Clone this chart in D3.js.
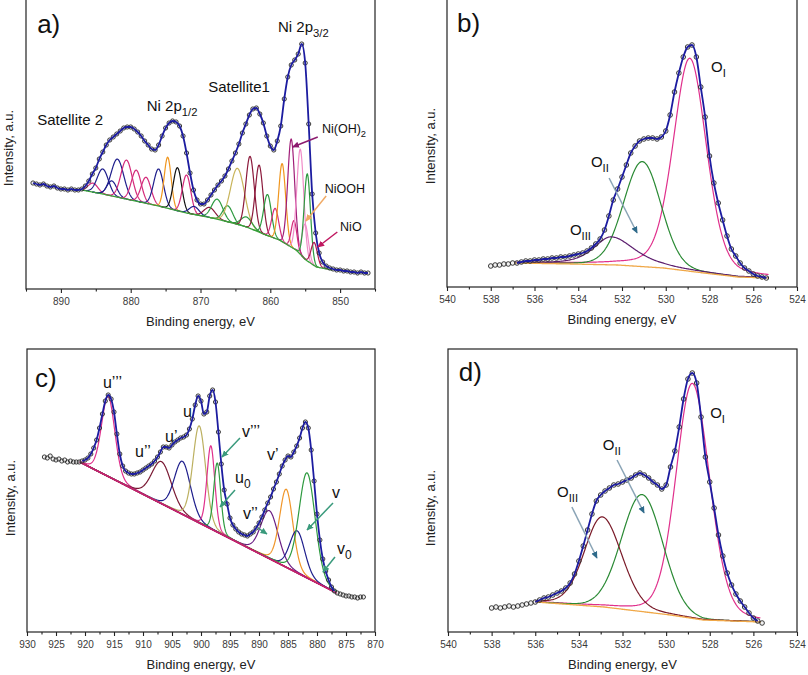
<!DOCTYPE html>
<html><head><meta charset="utf-8">
<script src="https://cdn.jsdelivr.net/npm/d3@7"></script>
<style>
body{margin:0;background:#fff}
svg{display:block}
text{font-family:"Liberation Sans",Arial,sans-serif}
</style>
</head><body>
<svg id="chart" width="808" height="675"></svg>
<script>
// ---------------- DATA ----------------
// Panel a: Ni 2p  [binding energy eV, intensity a.u.]
const obsNi = [[894,106],[893.5,105],[893,104],[892.5,105],[892,103],[891.5,102],[891,103],[890.5,101],[890,100],[889.5,100],[889,99],[888.5,100],[888,99],[887.5,99],[887,100],[886.5,103],[886,108],[885.5,115],[885,121],[884.5,130],[884,137],[883.5,144],[883,149],[882.5,152],[882,155],[881.5,158],[881,161],[880.5,162],[880,162],[879.5,160],[879,157],[878.5,153],[878,148],[877.5,144],[877,140],[876.5,139],[876,144],[875.5,153],[875,161],[874.5,166],[874,168],[873.5,167],[873,163],[872.5,153],[872,136],[871.5,116],[871,99],[870.5,89],[870,85],[869.5,85],[869,89],[868.5,94],[868,99],[867.5,104],[867,108],[866.5,113],[866,120],[865.5,128],[865,136],[864.5,145],[864,156],[863.5,165],[863,174],[862.5,180],[862,181],[861.5,175],[861,166],[860.5,153],[860,143],[859.5,139],[859,148],[858.5,163],[858,190],[857.5,212],[857,224],[856.5,229],[856,235],[855.5,245],[855,226],[854.5,165],[854,95],[853.5,56],[853,36],[852.5,27],[852,23],[851.5,21],[851,20],[850.5,19],[850,19],[849.5,18],[849,18],[848.5,17],[848,17],[847.5,16],[847,17],[846.5,16],[846,16]];
const bgNiE = [887,884,880,876,872,868.3,865.4,863.4,860.6,858.7,856.3,854.9,853.4,851.1];
const bgNiI = [99,95,89,83,76,71,66,62,54,49,39,29,22,19];
const niCenters = [885.4,884.0,882.7,881.9,880.6,879.2,877.8,876.0,874.7,873.3,872.0,870.9,868.7,867.6,866.1,864.7,863.4,862.9,861.6,860.4,859.3,858.3,857.0,856.6,855.7,855.0,854.7,853.7];
const niHeights = [9,25,15,38,39,31,26,37,51,43,38,8,10,20,16,56,10,72,67,41,30,78,108,28,105,35,87,23];
const niWidths  = [0.7,0.8,0.7,0.9,0.8,0.7,0.7,0.7,0.5,0.6,0.6,0.7,0.8,0.8,0.7,1.0,0.8,0.6,0.55,0.55,0.5,0.5,0.5,0.4,0.5,0.45,0.45,0.45];

// Panel b: O 1s
const obsOb = [[538.0,21],[537.8,22],[537.6,22],[537.4,23],[537.2,23],[537.0,24],[536.8,24],[536.6,25],[536.4,26],[536.2,26],[536.0,27],[535.8,27],[535.6,28],[535.4,28],[535.2,29],[535.0,29],[534.8,30],[534.6,30],[534.4,31],[534.2,32],[534.0,33],[533.8,34],[533.6,36],[533.4,39],[533.2,43],[533.0,48],[532.8,57],[532.6,71],[532.4,87],[532.2,98],[532.0,110],[531.8,122],[531.6,134],[531.4,141],[531.2,146],[531.0,148],[530.8,149],[530.6,149],[530.4,148],[530.2,150],[530.0,156],[529.8,172],[529.6,195],[529.4,214],[529.2,230],[529.0,240],[528.8,242],[528.6,230],[528.4,200],[528.2,170],[528.0,131],[527.8,104],[527.6,84],[527.4,67],[527.2,51],[527.0,38],[526.8,31],[526.6,24],[526.4,19],[526.2,16],[526.0,13],[525.8,11],[525.6,10],[525.4,9]];
const bgObE = [536.9,534.3,532.2,530.1,528.25,526.7,525.3];
const bgObI = [24,23,22,19,14,10,9];
const obCenters = [528.9,531.07,532.5];
const obHeights = [213,105,28];
const obWidthHigh = [0.76,0.85,0.8];
const obWidthLow = [0.76,0.85,1.1];
const obLorentz = [0.28,0.1,0.6];

// Panel c: Ce 3d
const obsCe = [[927,175],[926.5,174],[926,176],[925.5,173],[925,172],[924.5,173],[924,171],[923.5,172],[923,170],[922.5,171],[922,170],[921.5,170],[921,170],[920.5,171],[920,172],[919.5,174],[919,178],[918.5,184],[918,192],[917.5,204],[917,218],[916.5,231],[916,237],[915.5,233],[915,220],[914.5,198],[914,178],[913.5,166],[913,161],[912.5,159],[912,158],[911.5,158],[911,159],[910.5,160],[910,162],[909.5,164],[909,166],[908.5,168],[908,171],[907.5,175],[907,180],[906.5,185],[906,185],[905.5,184],[905,187],[904.5,190],[904,192],[903.5,194],[903,195],[902.5,197],[902,203],[901.5,213],[901,227],[900.5,236],[900,231],[899.5,218],[899,220],[898.5,236],[898,242],[897.5,230],[897,200],[896.5,168],[896,142],[895.5,128],[895,114],[894.5,107],[894,103],[893.5,100],[893,98],[892.5,97],[892,96],[891.5,98],[891,100],[890.5,104],[890,109],[889.5,115],[889,122],[888.5,129],[888,135],[887.5,143],[887,150],[886.5,158],[886,166],[885.5,172],[885,176],[884.5,175],[884,180],[883.5,186],[883,194],[882.5,204],[882,210],[881.5,204],[881,182],[880.5,151],[880,118],[879.5,92],[879,73],[878.5,61],[878,52],[877.5,45],[877,41],[876.5,39],[876,38],[875.5,37],[875,36],[874.5,36],[874,35],[873.5,35],[873,34],[872.5,35],[872,35]];
const bgCeE = [920.9,876.6];
const bgCeI = [170,39];
const ceCenters = [916.0,906.8,903.2,900.3,898.3,897.2,888.2,885.3,883.4,881.7];
const ceHeights = [80,42,53,97,83,69,48,78,42,105];
const ceWidths  = [1.15,1.7,1.4,1.1,0.68,0.6,1.5,1.15,1.3,1.4];

// Panel d: O 1s
const obsOd = [[538.0,24],[537.8,25],[537.6,24],[537.4,25],[537.2,26],[537.0,25],[536.8,26],[536.6,27],[536.4,28],[536.2,29],[536.0,30],[535.8,32],[535.6,34],[535.4,35],[535.2,37],[535.0,39],[534.8,41],[534.6,44],[534.4,49],[534.2,58],[534.0,71],[533.8,86],[533.6,102],[533.4,118],[533.2,131],[533.0,137],[532.8,141],[532.6,144],[532.4,147],[532.2,148],[532.0,150],[531.8,152],[531.6,154],[531.4,157],[531.2,159],[531.0,157],[530.8,154],[530.6,150],[530.4,147],[530.2,143],[530.0,147],[529.8,165],[529.6,181],[529.4,205],[529.2,233],[529.0,253],[528.8,259],[528.6,249],[528.4,215],[528.2,175],[528.0,150],[527.8,124],[527.6,97],[527.4,76],[527.2,59],[527.0,47],[526.8,38],[526.6,31],[526.4,25],[526.2,19],[526.0,14],[525.8,11],[525.6,9]];
const bgOdE = [536.0,532.85,529.8,528.3,525.65];
const bgOdI = [30,25,17,12,10];
const odCenters = [528.8,531.1,532.93];
const odHeights = [235,117,90];
const odWidthHigh = [0.75,0.95,0.82];
const odWidthLow = [0.8,0.95,0.9];
const odLorentz = [0.2,0.05,0.15];

// tick values
const ticksA = [890,880,870,860,850];
const minorA = [895,885,875,865,855,845];
const ticksB = [540,538,536,534,532,530,528,526,524];
const minorB = [539,537,535,533,531,529,527,525];
const ticksC = [930,925,920,915,910,905,900,895,890,885,880,875,870];
const minorC = [927.5,922.5,917.5,912.5,907.5,902.5,897.5,892.5,887.5,882.5,877.5,872.5];

// annotations (in data units)
const labelsA = [
  {t:'Satellite 2', e:893.4, i:164, fs:15},
  {t:'Ni 2p', sub:'1/2', e:877.7, i:178, fs:15},
  {t:'Satellite1', e:868.9, i:197, fs:15},
  {t:'Ni 2p', sub:'3/2', e:858.9, i:257, fs:15},
  {t:'Ni(OH)', sub:'2', e:852.6, i:156, fs:12.5},
  {t:'NiOOH', e:852.2, i:96, fs:12.5},
  {t:'NiO', e:850.0, i:58, fs:12.5}
];
const arrowsA = [
  {from:[853.2,152], to:[856.8,142], c:'#8c1a6e'},
  {from:[852.0,93], to:[854.9,68], c:'#f0aa66'},
  {from:[850.4,57], to:[853.2,42], c:'#c01860'}
];
const labelsB = [
  {t:'O', sub:'I', e:527.93, i:215, fs:15},
  {t:'O', sub:'II', e:533.42, i:120, fs:15},
  {t:'O', sub:'III', e:534.38, i:52, fs:15}
];
const arrowsB = [{from:[532.59,109], to:[531.31,54], c:'#8aa4b6', h:'#2e6a8a'}];
const labelsC = [
  {t:'u’’’', e:916.9, i:244, fs:16},
  {t:'u’’', e:911.38, i:175, fs:16},
  {t:'u’', e:906.2, i:190, fs:16},
  {t:'u', e:903.1, i:215, fs:16},
  {t:'v’’’', e:892.93, i:195, fs:16},
  {t:'u', sub:'0', e:894.14, i:149, fs:16},
  {t:'v’', e:888.62, i:172, fs:16},
  {t:'v’’', e:892.76, i:113, fs:16},
  {t:'v', e:877.41, i:134, fs:16},
  {t:'v', sub:'0', e:876.55, i:78, fs:16}
];
const arrowsC = [
  {from:[893.28,194], to:[896.38,175], c:'#3a9a7c'},
  {from:[894.14,142], to:[896.72,125], c:'#3a9a7c'},
  {from:[890.17,104], to:[888.62,98], c:'#3a9a7c'},
  {from:[877.24,129], to:[881.72,102], c:'#3a9a7c'},
  {from:[876.9,75], to:[878.97,60], c:'#3a9a7c'}
];
const labelsD = [
  {t:'O', sub:'I', e:527.98, i:214, fs:15},
  {t:'O', sub:'II', e:532.9, i:182, fs:15},
  {t:'O', sub:'III', e:535.0, i:135, fs:15}
];
const arrowsD = [
  {from:[532.25,172], to:[531.01,119], c:'#8aa4b6', h:'#2e6a8a'},
  {from:[534.32,125], to:[533.17,74], c:'#8aa4b6', h:'#2e6a8a'}
];

// ---------------- STYLES ----------------
const niColors = ['#d42a7a','#1e1e8c','#1e1e8c','#1e1e8c','#d42a7a','#d42a7a','#d42a7a','#1e1e8c','#f0961e','#111111','#d42a7a','#1e1e8c','#8c1a3c','#2e9a40','#2e9a40','#c8b45a','#2e9a40','#8c1a3c','#8c1a3c','#2e9a40','#d42a7a','#f0961e','#a01e78','#d42a7a','#f08cc8','#f08cc8','#2e9a40','#b01850'];
const ceColors = ['#e0308c','#7a1a34','#1e1e8c','#bcb060','#e0308c','#2e9a40','#6a1e84','#f0962a','#1e1e8c','#2e9a40'];
const obColors = ['#e0308c','#2a8a34','#5c1e6e'];
const odColors = ['#e0308c','#2a8a34','#7a1a28'];

// ---------------- DRAW ----------------
const svg = d3.select('#chart');
const defs = svg.append('defs');
const markerIds = {};
function markerFor(color){
  if (markerIds[color]) return markerIds[color];
  const id = 'm' + Object.keys(markerIds).length;
  defs.append('marker').attr('id', id).attr('viewBox','0 0 10 10')
    .attr('refX', 9).attr('refY', 5).attr('markerWidth', 7).attr('markerHeight', 7)
    .attr('markerUnits','userSpaceOnUse').attr('orient','auto')
    .append('path').attr('d','M0,0.5 L10,5 L0,9.5 Z').attr('fill', color);
  markerIds[color] = id;
  return id;
}

function peakValue(E, c, h, wHigh, wLow, eta){
  const s = E > c ? wHigh : wLow;
  const d = (E - c) / s;
  const g = Math.exp(-0.5 * d * d);
  const gam = s * 1.1774;
  const l = 1 / (1 + ((E - c) / gam) ** 2);
  return h * ((1 - eta) * g + eta * l);
}

function drawPanel(cfg){
  const x = d3.scaleLinear().domain(cfg.xDomain).range([cfg.left, cfg.right]);
  const y = d3.scaleLinear().domain(cfg.yDomain).range([cfg.bottom, cfg.top]);
  const g = svg.append('g');
  const clipId = 'clip' + cfg.id;
  defs.append('clipPath').attr('id', clipId).append('rect')
    .attr('x', cfg.left).attr('y', cfg.top).attr('width', cfg.right - cfg.left).attr('height', cfg.bottom - cfg.top);
  const plot = g.append('g').attr('clip-path', `url(#${clipId})`);
  const bg = d3.scaleLinear().domain(cfg.bgE).range(cfg.bgI).clamp(true);
  const line = d3.line().x(d => x(d[0])).y(d => y(d[1]));
  const bgLo = d3.min(cfg.bgE), bgHi = d3.max(cfg.bgE);

  // components
  cfg.centers.forEach((c, k) => {
    let lo, hi;
    if (cfg.local) { lo = Math.max(bgLo, c - 4 * cfg.wLow[k]); hi = Math.min(bgHi, c + 4 * cfg.wHigh[k]); }
    else { lo = cfg.fitRange[0]; hi = cfg.fitRange[1]; }
    const pts = d3.range(hi, lo - 1e-9, -0.04).map(E => [E, bg(E) + peakValue(E, c, cfg.heights[k], cfg.wHigh[k], cfg.wLow[k], cfg.eta[k])]);
    plot.append('path').attr('d', line(pts)).attr('fill','none')
      .attr('stroke', cfg.colors[k]).attr('stroke-width', 1.2);
  });
  // background
  const bgPts = d3.range(bgHi, bgLo - 1e-9, -0.05).map(E => [E, bg(E)]);
  plot.append('path').attr('d', line(bgPts)).attr('fill','none')
    .attr('stroke', cfg.bgColor).attr('stroke-width', cfg.bgWidth || 1.3);

  // observed circles
  plot.selectAll('circle.obs').data(cfg.obs).enter().append('circle')
    .attr('cx', d => x(d[0])).attr('cy', d => y(d[1])).attr('r', cfg.r || 2.1)
    .attr('fill','rgba(200,200,200,0.25)').attr('stroke','#262626').attr('stroke-width', 0.9);
  // fit envelope
  const fitPts = cfg.obs.filter(d => d[0] <= cfg.fitRange[1] + 1e-9 && d[0] >= cfg.fitRange[0] - 1e-9);
  plot.append('path').attr('d', d3.line().x(d => x(d[0])).y(d => y(d[1])).curve(d3.curveMonotoneX)(fitPts))
    .attr('fill','none').attr('stroke','#1c1ca0').attr('stroke-width', 1.8);

  // frame
  g.append('rect').attr('x', cfg.left).attr('y', cfg.top).attr('width', cfg.right - cfg.left)
    .attr('height', cfg.bottom - cfg.top).attr('fill','none').attr('stroke','#222').attr('stroke-width', 1.2);

  // axes
  const ax = g.append('g').attr('transform', `translate(0,${cfg.bottom})`)
    .call(d3.axisBottom(x).tickValues(cfg.major).tickSize(4).tickPadding(5).tickFormat(d3.format('d')));
  ax.select('.domain').remove();
  ax.selectAll('line').attr('stroke','#222').attr('stroke-width', 1.1);
  ax.selectAll('text').attr('font-size', 10).attr('fill','#3a3a3a')
    .attr('font-family','"Liberation Sans",Arial,sans-serif');
  const mx = g.append('g').attr('transform', `translate(0,${cfg.bottom})`)
    .call(d3.axisBottom(x).tickValues(cfg.minor).tickSize(2.6).tickFormat(''));
  mx.select('.domain').remove();
  mx.selectAll('line').attr('stroke','#222').attr('stroke-width', 1.1);

  // axis titles
  g.append('text').attr('x', (cfg.left + cfg.right) / 2).attr('y', cfg.bottom + 37)
    .attr('text-anchor','middle').attr('font-size', 13).attr('fill','#222').text('Binding energy, eV');
  g.append('text').attr('transform', `translate(${cfg.yLabelX},${cfg.yLabelY}) rotate(-90)`)
    .attr('text-anchor','middle').attr('dy','0.35em').attr('font-size', 13).attr('fill','#222')
    .text('Intensity, a.u.');

  // panel letter
  g.append('text').attr('x', x(cfg.letterPos[0])).attr('y', y(cfg.letterPos[1]))
    .attr('font-size', 26).attr('fill','#111').text(cfg.letter);

  // labels
  cfg.labels.forEach(L => {
    const t = g.append('text').attr('x', x(L.e)).attr('y', y(L.i)).attr('font-size', L.fs).attr('fill','#111');
    t.append('tspan').text(L.t);
    if (L.sub) t.append('tspan').attr('dy', L.fs * 0.33).attr('font-size', L.fs * 0.75).text(L.sub);
  });
  // arrows
  cfg.arrows.forEach(A => {
    g.append('line').attr('x1', x(A.from[0])).attr('y1', y(A.from[1]))
      .attr('x2', x(A.to[0])).attr('y2', y(A.to[1]))
      .attr('stroke', A.c).attr('stroke-width', 1.5)
      .attr('marker-end', `url(#${markerFor(A.h || A.c)})`);
  });
}

drawPanel({id:'a', left:26, right:375, top:-2, bottom:289, xDomain:[895,845], yDomain:[0,291],
  obs:obsNi, fitRange:[846,894], bgE:bgNiE, bgI:bgNiI, bgColor:'#3aa03a', local:true,
  centers:niCenters, heights:niHeights, wHigh:niWidths, wLow:niWidths, eta:niCenters.map(() => 0), colors:niColors,
  major:ticksA, minor:minorA, yLabelX:8, yLabelY:148, letter:'a)', letterPos:[893.4,256],
  labels:labelsA, arrows:arrowsA, r:2.1});

drawPanel({id:'b', left:447, right:797, top:-2, bottom:287, xDomain:[540,524], yDomain:[0,289],
  obs:obsOb, fitRange:[525.3,536.9], bgE:bgObE, bgI:bgObI, bgColor:'#f0a848',
  centers:obCenters, heights:obHeights, wHigh:obWidthHigh, wLow:obWidthLow, eta:obLorentz, colors:obColors,
  major:ticksB, minor:minorB, yLabelX:430, yLabelY:146, letter:'b)', letterPos:[539.54,255],
  labels:labelsB, arrows:arrowsB, r:2.3});

drawPanel({id:'c', left:27, right:375, top:349, bottom:632, xDomain:[930,870], yDomain:[0,283],
  obs:obsCe, fitRange:[876.6,920.9], bgE:bgCeE, bgI:bgCeI, bgColor:'#c81e6e', bgWidth:1.8,
  centers:ceCenters, heights:ceHeights, wHigh:ceWidths, wLow:ceWidths, eta:ceCenters.map(() => 0.15), colors:ceColors,
  major:ticksC, minor:minorC, yLabelX:10, yLabelY:498, letter:'c)', letterPos:[928.6,245],
  labels:labelsC, arrows:arrowsC, r:2.1});

drawPanel({id:'d', left:448, right:797, top:349, bottom:632, xDomain:[540,524], yDomain:[0,283],
  obs:obsOd, fitRange:[525.65,536.0], bgE:bgOdE, bgI:bgOdI, bgColor:'#f0a848',
  centers:odCenters, heights:odHeights, wHigh:odWidthHigh, wLow:odWidthLow, eta:odLorentz, colors:odColors,
  major:ticksB, minor:minorB, yLabelX:430, yLabelY:508, letter:'d)', letterPos:[539.51,251],
  labels:labelsD, arrows:arrowsD, r:2.3});
</script>
</body></html>
